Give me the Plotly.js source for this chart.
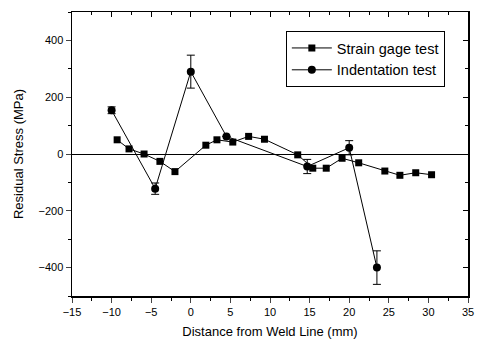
<!DOCTYPE html>
<html><head><meta charset="utf-8">
<script src="https://cdn.plot.ly/plotly-3.0.1.min.js"></script>
<style>html,body{margin:0;padding:0;background:#fff;overflow:hidden}#c{width:482px;height:347px}</style>
</head><body><div id="c"></div>
<script>
const strainX = [-9.3, -7.8, -5.9, -3.9, -2.0, 1.9, 3.3, 5.3, 7.3, 9.3, 13.5, 15.4, 17.1, 19.1, 21.2, 24.5, 26.4, 28.4, 30.4];
const strainY = [50, 18, 0, -26, -62, 31, 50, 42, 62, 52, -3, -50, -50, -15, -31, -60, -75, -66, -73];
const indentX = [-10.0, -4.5, 0.0, 4.5, 14.7, 20.0, 23.5];
const indentY = [154, -122, 290, 62, -44, 22, -400];
const indentErr = [12, 20, 58, 0, 25, 25, 59];
const xTitle = 'Distance from Weld Line (mm)';
const yTitle = 'Residual Stress (MPa)';
const names = ['Strain gage test', 'Indentation test'];

const FONT = 'Liberation Sans, Arial, sans-serif';
const data = [
  {x: strainX, y: strainY, name: names[0], mode: 'lines+markers', type: 'scatter',
   line: {color: '#000', width: 1}, marker: {symbol: 'square', size: 7, color: '#000'}},
  {x: indentX, y: indentY, name: names[1], mode: 'lines+markers', type: 'scatter',
   line: {color: '#000', width: 1}, marker: {symbol: 'circle', size: 8, color: '#000'},
   error_y: {type: 'data', array: indentErr, visible: true, color: '#000', thickness: 1, width: 4}},
  {x: [-15], y: [-500], xaxis: 'x2', yaxis: 'y', mode: 'markers', marker: {opacity: 0},
   showlegend: false, hoverinfo: 'skip'},
  {x: [-15], y: [-500], xaxis: 'x', yaxis: 'y2', mode: 'markers', marker: {opacity: 0},
   showlegend: false, hoverinfo: 'skip'}
];
const layout = {
  width: 482, height: 347,
  margin: {l: 72, r: 14, t: 12, b: 51},
  paper_bgcolor: '#fff', plot_bgcolor: '#fff',
  font: {family: FONT, color: '#000', size: 11},
  showlegend: true,
  legend: {x: 0.54, y: 0.933, xanchor: 'left', yanchor: 'top', bordercolor: '#000', borderwidth: 1,
           bgcolor: '#fff', font: {size: 14.5, family: FONT}, tracegroupgap: 0, itemwidth: 40},
  xaxis: {range: [-15, 35], dtick: 5, tick0: -15, ticks: 'outside', ticklen: 5, tickwidth: 1,
          showgrid: false, zeroline: false, showline: true, linecolor: '#000', linewidth: 1.5,
          minor: {dtick: 2.5, ticks: 'outside', ticklen: 3, tickcolor: '#000', showgrid: false},
          title: {text: xTitle, font: {size: 13, family: FONT}, standoff: 10}, tickfont: {size: 11}},
  yaxis: {range: [-500, 500], dtick: 200, tick0: 0, ticks: 'outside', ticklen: 5, tickwidth: 1,
          showgrid: false, zeroline: true, zerolinecolor: '#000', zerolinewidth: 1,
          showline: true, linecolor: '#000', linewidth: 1.5,
          minor: {dtick: 100, ticks: 'outside', ticklen: 3, tickcolor: '#000', showgrid: false},
          title: {text: yTitle, font: {size: 13, family: FONT}, standoff: 12}, tickfont: {size: 11}},
  xaxis2: {overlaying: 'x', side: 'top', anchor: 'y', range: [-15, 35], dtick: 5, tick0: -15,
           ticks: 'inside', ticklen: 5, tickcolor: '#000', showticklabels: false, showgrid: false, zeroline: false,
           showline: true, linecolor: '#000', linewidth: 1.5,
           minor: {dtick: 2.5, ticks: 'inside', ticklen: 3, tickcolor: '#000', showgrid: false}},
  yaxis2: {overlaying: 'y', side: 'right', anchor: 'x', range: [-500, 500], dtick: 200, tick0: 0,
           ticks: 'inside', ticklen: 5, tickcolor: '#000', showticklabels: false, showgrid: false, zeroline: false,
           showline: true, linecolor: '#000', linewidth: 1.5,
           minor: {dtick: 100, ticks: 'inside', ticklen: 3, tickcolor: '#000', showgrid: false}}
};
Plotly.newPlot('c', data, layout, {staticPlot: true, displayModeBar: false});
</script></body></html>
